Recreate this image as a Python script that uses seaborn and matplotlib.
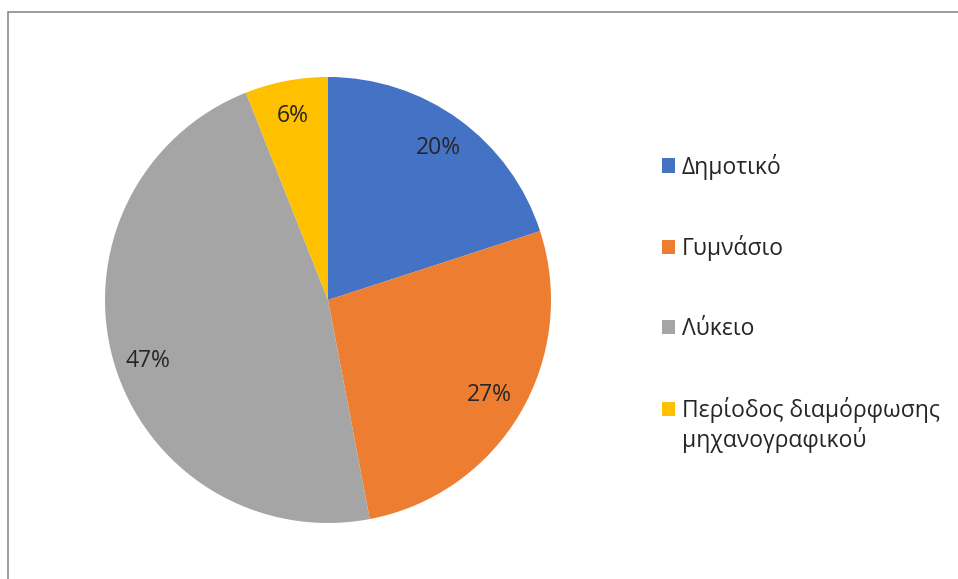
import matplotlib
matplotlib.use("Agg")
import matplotlib.pyplot as plt
import matplotlib.transforms as mtransforms
import seaborn as sns
from matplotlib.patches import Rectangle

# Δεδομένα
categories = ["Δημοτικό", "Γυμνάσιο", "Λύκειο", "Περίοδος διαμόρφωσης"]
label_extra = "μηχανογραφικού"  # δεύτερη γραμμή της τελευταίας κατηγορίας
values = [20, 27, 47, 6]
colors = ["#4472C4", "#ED7D31", "#A5A5A5", "#FFC000"]

sns.set_theme(style="white")
plt.rcParams['font.family'] = ['Open Sans', 'DejaVu Sans']

W, H = 958, 579
fig = plt.figure(figsize=(W / 100, H / 100), dpi=100)

# pie centre (328, 300) px, radius 223 px
cx, cy, r = 328, 300, 223
ax = fig.add_axes([(cx - r) / W, (H - cy - r) / H, 2 * r / W, 2 * r / H])
wedges, texts, autotexts = ax.pie(
    values, colors=colors, startangle=90, counterclock=False,
    autopct='%1.0f%%', pctdistance=0.84,
    wedgeprops=dict(linewidth=0),
    textprops=dict(fontsize=16.5, color="#262626"))
ax.set_aspect("equal")
ax.set_xlim(-1, 1)
ax.set_ylim(-1, 1)
ax.axis("off")

# το 47% είναι λίγο πιο χαμηλά στο πρωτότυπο
autotexts[2].set_transform(mtransforms.offset_copy(autotexts[2].get_transform(),
                                                   fig=fig, y=-9, units='dots'))

# chart frame (cut off at right / bottom)
fig.patches.append(Rectangle((8 / W, -0.05), 1.1, (H - 12) / H + 0.05,
                             transform=fig.transFigure, fill=False,
                             edgecolor="#8c8c8c", linewidth=1.2))

leg = fig.legend(wedges, categories, loc="upper left",
                 bbox_to_anchor=(641 / W, 1 - 133 / H),
                 frameon=False, fontsize=16.5, handlelength=0.57, handleheight=0.57,
                 handletextpad=0.3, labelspacing=2.43, labelcolor="#262626")

# δεύτερη γραμμή κάτω από το τελευταίο στοιχείο του υπομνήματος
fig.canvas.draw()
bb = leg.get_texts()[3].get_window_extent(fig.canvas.get_renderer())
fig.text(bb.x0 / W, ((bb.y0 + bb.y1) / 2 - 30) / H, label_extra,
         fontsize=16.5, color="#262626", ha="left", va="center")

fig.savefig("out.png", dpi=100, facecolor="white")
